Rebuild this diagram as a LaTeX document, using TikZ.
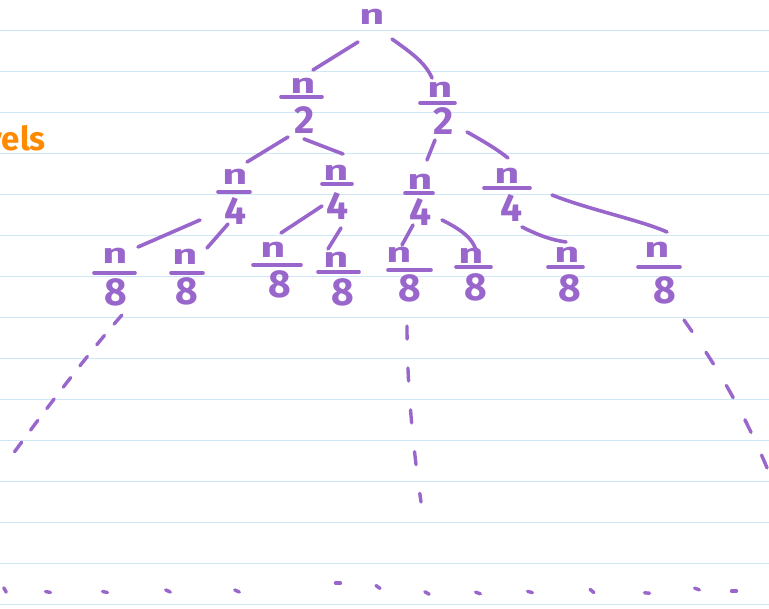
\documentclass[tikz,border=0pt]{standalone}
\usepackage{fontspec}
\setmainfont{Fira Sans}
\definecolor{ink}{HTML}{9966CC}
\definecolor{rule}{HTML}{CFE8F8}
\definecolor{orng}{HTML}{FF8A00}
\newcommand\wideN{\scalebox{1.55}[1]{n}}
\tikzset{
  num/.style={inner sep=0pt, text=ink, font=\fontsize{28}{28}\selectfont\bfseries},
  den/.style={inner sep=0pt, text=ink, font=\fontsize{39}{39}\selectfont\bfseries},
  bar/.style={draw=ink, line width=3.6pt, line cap=round},
  edge/.style={draw=ink, line width=3.6pt, line cap=round},
  dsh/.style={draw=ink, line width=3.4pt, line cap=round},
  paper/.style={draw=rule, line width=1.5pt},
}
\begin{document}
\begin{tikzpicture}[x=1pt,y=-1pt]
\useasboundingbox (0,0) rectangle (769,609);
\fill[white] (0,0) rectangle (769,609);
\clip (0,0) rectangle (769,609);
\foreach \k in {0,...,14} {\draw[paper] (0,30.5+41*\k) -- (769,30.5+41*\k);}
% orange label
\node[anchor=base east, inner sep=0pt, text=orng, font=\fontsize{33}{33}\selectfont\bfseries] (lbl) at (46,151) {levels};
% root
\node[num] (root) at (372,17) {\wideN};
% level 1
\node[num] (a-n) at (303,86) {\wideN}; \draw[bar] (281,97) -- (322,97); \node[den] (a-d) at (305,120) {2};
\node[num] (b-n) at (440,90) {\wideN}; \draw[bar] (420,103) -- (455,103); \node[den] (b-d) at (444,121) {2};
% level 2
\node[num] (c-n) at (235,177) {\wideN}; \draw[bar] (218,192) -- (250,192); \node[den] (c-d) at (236,211) {4};
\node[num] (d-n) at (336,173) {\wideN}; \draw[bar] (322,184) -- (352,184); \node[den] (d-d) at (338,206) {4};
\node[num] (e-n) at (420,182) {\wideN}; \draw[bar] (405,193) -- (433,193); \node[den] (e-d) at (421,212) {4};
\node[num] (f-n) at (507,176) {\wideN}; \draw[bar] (484,188) -- (530,188); \node[den] (f-d) at (512,208) {4};
% level 3
\node[num] (g-n) at (115,256) {\wideN}; \draw[bar] (94,273) -- (135,273); \node[den] (g-d) at (116,292) {8};
\node[num] (h-n) at (185,257) {\wideN}; \draw[bar] (171,273) -- (203,273); \node[den] (h-d) at (187,291) {8};
\node[num] (i-n) at (273,250) {\wideN}; \draw[bar] (253,265) -- (301,265); \node[den] (i-d) at (280,284) {8};
\node[num] (j-n) at (336,260) {\wideN}; \draw[bar] (318,272) -- (359,272); \node[den] (j-d) at (343,292) {8};
\node[num] (k-n) at (399,255) {\wideN}; \draw[bar] (388,270) -- (431,270); \node[den] (k-d) at (410,288) {8};
\node[num] (l-n) at (471,256) {\wideN}; \draw[bar] (456,267) -- (491,267); \node[den] (l-d) at (476,287) {8};
\node[num] (m-n) at (567,255) {\wideN}; \draw[bar] (548,267) -- (583,267); \node[den] (m-d) at (570,288) {8};
\node[num] (o-n) at (657,250) {\wideN}; \draw[bar] (638,267) -- (680,267); \node[den] (o-d) at (665,290) {8};
% edges
\draw[edge] (358,42) -- (313,70);
\draw[edge] (392,39) .. controls (410,52) and (425,62) .. (432,78);
\draw[edge] (288,137) -- (247,162);
\draw[edge] (304,139) -- (343,154);
\draw[edge] (435,140) -- (427,160);
\draw[edge] (467,132) .. controls (485,142) and (498,150) .. (508,158);
\draw[edge] (200,220) -- (138,247);
\draw[edge] (228,224) -- (207,248);
\draw[edge] (322,206) -- (281,233);
\draw[edge] (341,228) -- (328,249);
\draw[edge] (413,225) -- (402,245);
\draw[edge] (442,220) .. controls (462,230) and (472,238) .. (476,250);
\draw[edge] (522,227) .. controls (540,236) and (552,240) .. (566,242);
\draw[edge] (552,195) .. controls (590,210) and (640,220) .. (667,232);
% dashed continuations
\draw[dsh, dash pattern=on 12pt off 15pt] (122,315) .. controls (95,345) and (45,410) .. (10,458);
\draw[dsh, dash pattern=on 13pt off 29pt] (407,326) .. controls (407,380) and (412,440) .. (421,502);
\draw[dsh, dash pattern=on 14pt off 25pt] (684,320) .. controls (705,350) and (740,400) .. (772,480);
% bottom dots
\foreach \x/\y/\a in {5/590/60, 48/592/10, 105/592/12, 168/591/25, 237/591/25, 338/583/0, 378/587/35, 427/593/30, 478/593/20, 530/592/15, 592/591/40, 647/593/5, 697/589/20, 734/591/0}
  {\draw[ink, line width=3.4pt, line cap=round] (\x,\y) ++(\a+180:2.5) -- ++(\a:5);}
\end{tikzpicture}
\end{document}
